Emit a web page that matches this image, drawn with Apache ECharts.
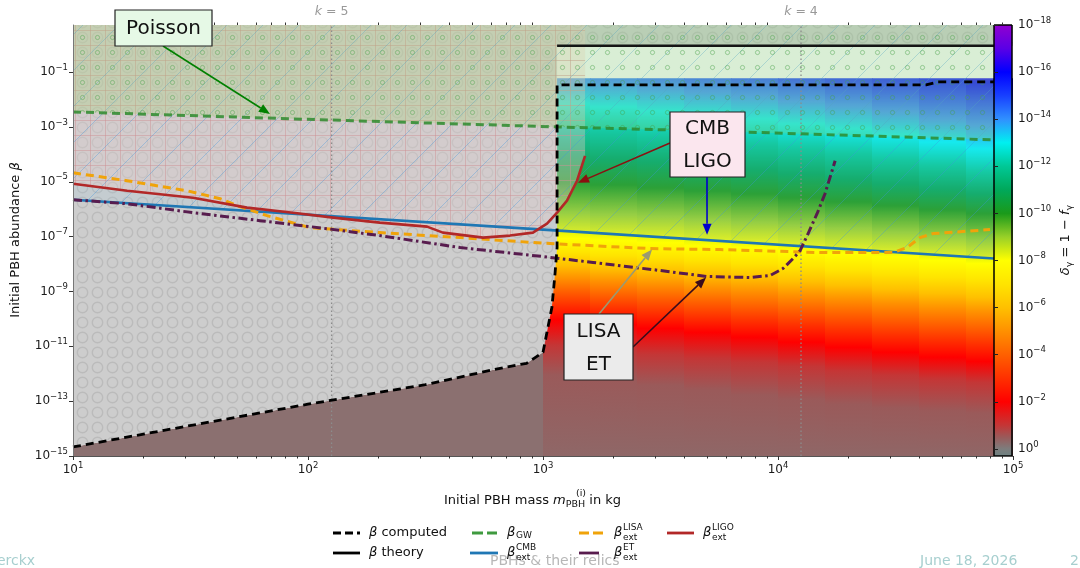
<!DOCTYPE html>
<html>
<head>
<meta charset="utf-8">
<title>Initial PBH abundance</title>
<script src="https://cdn.jsdelivr.net/npm/echarts@6.0.0/dist/echarts.min.js"></script>
<style>
html, body { margin: 0; padding: 0; background: #ffffff; }
#chart { width: 1080px; height: 568px; }
</style>
</head>
<body>
<div id="chart"></div>
<script>
// ---------------- axis ranges ----------------
const massRange = [10, 1e5];          // kg
const betaRange = [1e-15, 5.2];       // initial abundance
const deltaRange = [-18, 0.3];        // log10 of delta_gamma on the colour bar

// ---------------- curves: mass (kg) and beta ----------------
const computedMass = [10, 100, 316, 603, 851, 1000, 1091, 1125, 1148, 1148, 42660, 47860, 83000];
const computedBeta = [2.14e-15, 7.76e-14, 3.98e-13, 1.35e-12, 2.40e-12, 6.03e-12, 2.63e-10, 4.47e-9, 3.98e-8, 0.0339, 0.0339, 0.0437, 0.0437];

const theoryMass = [1148, 83000];
const theoryBeta = [0.91, 0.91];

const gwMass = [10, 166, 1148, 3373, 6887, 82220];
const gwBeta = [3.51e-3, 1.65e-3, 1.0e-3, 7.78e-4, 6.58e-4, 3.37e-4];

const cmbMass = [10, 1000, 83000];
const cmbBeta = [2.2e-6, 1.8e-7, 1.6e-8];

const ligoMass = [10, 17.0, 32.4, 55.0, 86.3, 128, 202, 321, 375, 556, 724, 906, 1040, 1148, 1265, 1396, 1510];
const ligoBeta = [8.45e-6, 4.71e-6, 2.62e-6, 1.14e-6, 7.46e-7, 4.91e-7, 3.23e-7, 2.31e-7, 1.40e-7, 9.20e-8, 1.09e-7, 1.40e-7, 2.97e-7, 7.46e-7, 2.04e-6, 1.09e-5, 8.81e-5];

const lisaMass = [10, 17.0, 30.5, 42.3, 49.9, 67.0, 102, 202, 444, 1072, 2851, 5662, 15100, 30830, 35400, 40180, 45710, 79800];
const lisaBeta = [2.12e-5, 1.09e-5, 4.71e-6, 2.41e-6, 1.34e-6, 5.81e-7, 2.12e-7, 1.40e-7, 9.20e-8, 5.56e-8, 3.66e-8, 3.37e-8, 2.62e-8, 2.62e-8, 3.98e-8, 9.20e-8, 1.29e-7, 1.80e-7];

const etMass = [10, 17.0, 32.4, 62.5, 120, 202, 444, 1000, 1633, 3148, 4989, 7603, 9247, 10500, 11590, 12420, 13430, 14660, 15850, 17500];
const etBeta = [2.21e-6, 1.58e-6, 7.46e-7, 3.82e-7, 1.95e-7, 1.09e-7, 3.98e-8, 1.87e-8, 1.14e-8, 5.81e-9, 3.51e-9, 3.23e-9, 3.82e-9, 6.85e-9, 1.58e-8, 3.10e-8, 1.29e-7, 6.85e-7, 3.66e-6, 5.81e-5];

// vertical guides for k
const kMass = [126, 12530];
const kLabel = ['5', '4'];

// ---------------- delta_gamma map ----------------
// column edges in mass, top of the map in beta
const heatMassEdges = [1000, 1585, 2512, 3981, 6310, 10000, 15850, 25120, 39810, 63100, 100000];
const heatBetaTop = 0.06;
// log10(delta) levels, and for each level the log10(beta) where it is reached in each column
const deltaLevels = [-0.3, -0.5, -1, -2, -3, -4, -5, -6, -7, -8, -9, -10, -11, -12, -13, -14, -15, -16, -17];
const heatLevelBeta = [
  [-15.22, -15.22, -15.22, -15.22, -15.22, -15.22, -15.22, -15.22, -15.22, -15.22],
  [-12.05, -12.24, -12.42, -12.60, -12.78, -12.96, -13.11, -13.25, -13.36, -13.44],
  [-10.96, -11.15, -11.29, -11.44, -11.58, -11.73, -11.91, -12.05, -12.20, -12.31],
  [-10.05, -10.20, -10.35, -10.49, -10.67, -10.85, -11.04, -11.22, -11.40, -11.55],
  [-9.51, -9.65, -9.80, -9.95, -10.09, -10.24, -10.42, -10.60, -10.78, -10.93],
  [-9.00, -9.15, -9.25, -9.40, -9.55, -9.69, -9.84, -10.02, -10.20, -10.35],
  [-8.53, -8.64, -8.75, -8.89, -9.00, -9.15, -9.29, -9.44, -9.62, -9.76],
  [-8.05, -8.16, -8.27, -8.38, -8.49, -8.64, -8.78, -8.93, -9.07, -9.22],
  [-7.58, -7.69, -7.76, -7.87, -7.98, -8.09, -8.24, -8.35, -8.49, -8.60],
  [-7.07, -7.15, -7.22, -7.33, -7.40, -7.51, -7.62, -7.73, -7.87, -7.98],
  [-6.13, -6.20, -6.27, -6.38, -6.49, -6.60, -6.71, -6.85, -7.00, -7.15],
  [-5.04, -5.11, -5.22, -5.33, -5.44, -5.58, -5.73, -5.87, -6.02, -6.16],
  [-4.05, -4.16, -4.27, -4.42, -4.56, -4.71, -4.89, -5.07, -5.25, -5.44],
  [-3.07, -3.18, -3.33, -3.47, -3.62, -3.80, -3.98, -4.20, -4.42, -4.67],
  [-2.16, -2.27, -2.42, -2.56, -2.71, -2.89, -3.07, -3.29, -3.55, -3.80],
  [-1.33, -1.44, -1.58, -1.73, -1.87, -2.05, -2.24, -2.45, -2.71, -2.93],
  [-0.53, -0.64, -0.78, -0.93, -1.07, -1.25, -1.44, -1.62, -1.84, -2.05],
  [0.27, 0.16, 0.02, -0.13, -0.27, -0.45, -0.64, -0.82, -1.04, -1.40],
  [1.07, 0.96, 0.82, 0.67, 0.53, 0.35, 0.16, -0.02, -0.24, -0.67]
];

// colour map: log10(delta) -> colour
const cmapLevels = [0.3, 0, -0.5, -1, -2, -3, -4, -5, -6, -7, -8, -9, -10, -11, -12, -13, -14, -15, -16, -17, -18];
const cmapColors = ['#6e8282', '#7d7d7d', '#9a5a5a', '#c43636', '#ff0000', '#ff3000', '#ff6000', '#ff9000', '#ffc000', '#ffe400', '#ffff00',
  '#98d028', '#1a9a1a', '#00a85a', '#00c896', '#00f0f0', '#3090ff', '#1840ff', '#0000ff', '#5a00e6', '#9000d0'];

const colorbarTicks = [-18, -16, -14, -12, -10, -8, -6, -4, -2, 0];
const xMajorTicks = [10, 100, 1000, 10000, 100000];
const yMajorTicks = [1e-15, 1e-13, 1e-11, 1e-9, 1e-7, 1e-5, 1e-3, 1e-1];

// ---------------- helpers ----------------
const FONT = 'DejaVu Sans';
const pairs = (ms, bs) => ms.map((m, i) => [m, bs[i]]);

function hexRgb(h) { return [parseInt(h.slice(1, 3), 16), parseInt(h.slice(3, 5), 16), parseInt(h.slice(5, 7), 16)]; }
function cmap(level) {
  for (let k = 0; k < cmapLevels.length - 1; k++) {
    const a = cmapLevels[k], b = cmapLevels[k + 1];
    if (level <= a && level >= b) {
      const t = (a - level) / (a - b);
      const c0 = hexRgb(cmapColors[k]), c1 = hexRgb(cmapColors[k + 1]);
      return 'rgb(' + c0.map((v, j) => Math.round(v + (c1[j] - v) * t)).join(',') + ')';
    }
  }
  return level > cmapLevels[0] ? cmapColors[0] : cmapColors[cmapColors.length - 1];
}

function tile(w, h, draw) {
  const c = document.createElement('canvas');
  c.width = w; c.height = h;
  draw(c.getContext('2d'), w, h);
  return { image: c, repeat: 'repeat' };
}
// hatch fills
const grayHatch = tile(15, 15, (ctx, w, h) => {
  ctx.fillStyle = '#cdcdcd'; ctx.fillRect(0, 0, w, h);
  ctx.strokeStyle = '#bbbbbb'; ctx.lineWidth = 1.4;
  ctx.beginPath(); ctx.arc(7.5, 7.5, 5.2, 0, Math.PI * 2); ctx.stroke();
});
const pinkHatch = tile(15, 15, (ctx, w, h) => {
  ctx.fillStyle = 'rgba(255,205,195,0.35)'; ctx.fillRect(0, 0, w, h);
  ctx.strokeStyle = 'rgba(215,135,135,0.5)'; ctx.lineWidth = 1;
  ctx.beginPath(); ctx.moveTo(0.5, 0); ctx.lineTo(0.5, h); ctx.moveTo(0, 0.5); ctx.lineTo(w, 0.5); ctx.stroke();
});
const blueHatch = tile(36, 36, (ctx, w, h) => {
  ctx.fillStyle = 'rgba(150,200,230,0.15)'; ctx.fillRect(0, 0, w, h);
  ctx.strokeStyle = 'rgba(60,150,220,0.35)'; ctx.lineWidth = 1;
  ctx.beginPath(); ctx.moveTo(-3, h + 3); ctx.lineTo(w + 3, -3); ctx.stroke();
});
const greenHatch = tile(15, 15, (ctx, w, h) => {
  ctx.fillStyle = 'rgba(150,210,100,0.25)'; ctx.fillRect(0, 0, w, h);
  ctx.strokeStyle = 'rgba(70,160,70,0.45)'; ctx.lineWidth = 1;
  ctx.beginPath(); ctx.arc(7.5, 7.5, 2.1, 0, Math.PI * 2); ctx.stroke();
});

function regionSeries(name, data, origin, color, z) {
  return { name: name, type: 'line', data: data, symbol: 'none', silent: true, z: z,
    lineStyle: { width: 0, opacity: 0 }, areaStyle: { origin: origin, color: color, opacity: 1 } };
}
function curveSeries(name, data, color, width, type, z, opacity) {
  return { name: name, type: 'line', data: data, symbol: 'none', silent: true, z: z,
    lineStyle: { color: color, width: width, type: type, cap: 'butt', join: 'round', opacity: opacity == null ? 1 : opacity } };
}

const tickRich = {
  b: { fontSize: 12, fontFamily: FONT, color: '#1a1a1a' },
  s: { fontSize: 8.5, fontFamily: FONT, color: '#1a1a1a', padding: [0, 0, 9, 0] }
};
function powText(e) { return '{b|10}{s|' + (e < 0 ? '\u2212' + (-e) : String(e)) + '}'; }
const minorMass = [];
[10, 100, 1000, 10000].forEach(d => { for (let k = 2; k <= 9; k++) minorMass.push(k * d); });

// ---------------- chart ----------------
const chart = echarts.init(document.getElementById('chart'), null, { renderer: 'canvas' });

const grayRegion = pairs(computedMass.slice(0, 9), computedBeta.slice(0, 9)).concat([[theoryMass[0], theoryBeta[0]], [massRange[1], theoryBeta[1]]]);
const brownRegion = pairs(computedMass.slice(0, 6), computedBeta.slice(0, 6));

const option = {
  animation: false,
  textStyle: { fontFamily: FONT },
  grid: [
    { left: 73, top: 25, width: 940, height: 431 },
    { left: 994, top: 25, width: 18, height: 431 },
    { left: 73, top: 25, width: 940, height: 431 }
  ],
  xAxis: [
    { type: 'log', logBase: 10, gridIndex: 0, min: massRange[0], max: massRange[1], position: 'bottom', z: 20,
      axisLine: { show: true, lineStyle: { color: '#555', width: 1 } },
      axisTick: { show: true, length: 4, customValues: xMajorTicks, lineStyle: { color: '#333' } },
      axisLabel: { customValues: xMajorTicks, margin: 5, formatter: v => powText(Math.round(Math.log10(v))), rich: tickRich },
      splitLine: { show: false }, minorTick: { show: false } },
    { type: 'log', logBase: 10, gridIndex: 0, min: massRange[0], max: massRange[1], position: 'top', z: 20,
      axisLine: { show: false },
      axisTick: { show: true, length: 2.5, customValues: minorMass, lineStyle: { color: '#333' } },
      axisLabel: { show: false }, splitLine: { show: false } },
    { type: 'value', gridIndex: 1, min: 0, max: 1, show: false },
    { type: 'log', logBase: 10, gridIndex: 2, min: massRange[0], max: massRange[1], position: 'bottom', z: 20,
      axisLine: { show: false },
      axisTick: { show: true, length: 2.5, customValues: minorMass, lineStyle: { color: '#333' } },
      axisLabel: { show: false }, splitLine: { show: false } }
  ],
  yAxis: [
    { type: 'log', logBase: 10, gridIndex: 0, min: betaRange[0], max: betaRange[1], z: 20,
      axisLine: { show: true, lineStyle: { color: '#777', width: 1 } },
      axisTick: { show: true, length: 4, customValues: yMajorTicks, lineStyle: { color: '#333' } },
      axisLabel: { customValues: yMajorTicks, margin: 5, formatter: v => powText(Math.round(Math.log10(v))), rich: tickRich },
      splitLine: { show: false } },
    { type: 'value', gridIndex: 1, min: deltaRange[0], max: deltaRange[1], inverse: true, position: 'right', z: 20,
      axisLine: { show: false },
      axisTick: { show: true, length: 4, customValues: colorbarTicks, lineStyle: { color: '#222' } },
      axisLabel: { customValues: colorbarTicks, margin: 6, formatter: v => powText(v), rich: tickRich },
      splitLine: { show: false } },
    { type: 'value', gridIndex: 2, min: 0, max: 1, show: false }
  ],
  series: [
    // delta_gamma map, one gradient column per mass bin
    { type: 'custom', name: 'delta map', xAxisIndex: 0, yAxisIndex: 0, z: 1, silent: true, clip: true,
      data: heatMassEdges.slice(0, -1).map((m, i) => [m, betaRange[0], heatMassEdges[i + 1], heatBetaTop, i]),
      encode: { x: [0, 2], y: [1, 3] },
      renderItem: function (params, api) {
        const i = api.value(4);
        const pL = api.coord([api.value(0), api.value(1)]);
        const pR = api.coord([api.value(2), api.value(3)]);
        const ys = deltaLevels.map((lv, k) => api.coord([api.value(0), Math.pow(10, heatLevelBeta[k][i])])[1]);
        const yMin = Math.min.apply(null, ys), yMax = Math.max.apply(null, ys);
        const stops = deltaLevels.map((lv, k) => ({ offset: (ys[k] - yMin) / (yMax - yMin), color: cmap(lv) }))
          .sort((a, b) => a.offset - b.offset);
        return { type: 'rect', shape: { x: pL[0], y: pR[1], width: pR[0] - pL[0] + 0.6, height: pL[1] - pR[1] },
          style: { fill: new echarts.graphic.LinearGradient(0, yMin, 0, yMax, stops, true) } };
      } },
    regionSeries('below computed', brownRegion, 'start', '#8b7070', 1),
    regionSeries('theory excluded', grayRegion, 'end', grayHatch, 2),
    regionSeries('LIGO excluded', pairs(ligoMass, ligoBeta), 'end', pinkHatch, 3),
    regionSeries('CMB excluded', pairs(cmbMass, cmbBeta), 'end', blueHatch, 4),
    regionSeries('GW excluded', pairs(gwMass, gwBeta), 'end', greenHatch, 5),
    // k guides
    ...kMass.map((m, i) => ({ type: 'line', name: 'k' + kLabel[i], data: [[m, betaRange[0]], [m, betaRange[1]]], symbol: 'none', silent: true, z: 6,
      lineStyle: { color: '#8c8c8c', width: 1.3, type: [1.5, 2.5] } })),
    curveSeries('beta theory', pairs(theoryMass, theoryBeta), '#151515', 2.6, 'solid', 7),
    curveSeries('beta GW', pairs(gwMass, gwBeta), '#2e8b2e', 3, [8, 5], 7, 0.85),
    curveSeries('beta CMB', pairs(cmbMass, cmbBeta), '#1f77b4', 2.6, 'solid', 8),
    curveSeries('beta LISA', pairs(lisaMass, lisaBeta), '#f0a30a', 3, [8, 5], 8),
    curveSeries('beta ET', pairs(etMass, etBeta), '#581c4e', 3, [9, 3.5, 2.5, 3.5], 8),
    curveSeries('beta LIGO', pairs(ligoMass, ligoBeta), '#b22828', 2.6, 'solid', 8),
    curveSeries('beta computed', pairs(computedMass, computedBeta), '#000000', 2.8, [8, 5], 9),
    // colour bar
    { type: 'custom', name: 'colour bar', xAxisIndex: 2, yAxisIndex: 1, z: 12, silent: true,
      data: [[0, deltaRange[0], 1, deltaRange[1]]],
      encode: { x: [0, 2], y: [1, 3] },
      renderItem: function (params, api) {
        const pTop = api.coord([api.value(0), api.value(1)]);
        const pBot = api.coord([api.value(2), api.value(3)]);
        const stops = cmapLevels.map(lv => ({ offset: (api.coord([0, lv])[1] - pTop[1]) / (pBot[1] - pTop[1]), color: cmap(lv) }))
          .sort((a, b) => a.offset - b.offset);
        return { type: 'rect', shape: { x: pTop[0], y: pTop[1], width: pBot[0] - pTop[0], height: pBot[1] - pTop[1] },
          style: { fill: new echarts.graphic.LinearGradient(0, pTop[1], 0, pBot[1], stops, true), stroke: '#000', lineWidth: 1 } };
      } }
  ]
};
chart.setOption(option);

// ---------------- annotations, titles, legend ----------------
const px = (m, b) => chart.convertToPixel({ xAxisIndex: 0, yAxisIndex: 0 }, [m, b]);
function arrow(from, to, color, width) {
  const dx = to[0] - from[0], dy = to[1] - from[1], L = Math.hypot(dx, dy);
  const ux = dx / L, uy = dy / L, hl = 11, hw = 4.5;
  const bx = to[0] - ux * hl, by = to[1] - uy * hl;
  return [
    { type: 'line', z: 100, shape: { x1: from[0], y1: from[1], x2: bx, y2: by }, style: { stroke: color, lineWidth: width } },
    { type: 'polygon', z: 100, shape: { points: [[to[0], to[1]], [bx - uy * hw, by + ux * hw], [bx + uy * hw, by - ux * hw]] }, style: { fill: color } }
  ];
}
function box(x, y, w, h, fill, lines) {
  const els = [{ type: 'rect', z: 101, shape: { x: x, y: y, width: w, height: h }, style: { fill: fill, stroke: '#222', lineWidth: 1.2 } }];
  lines.forEach((t, i) => els.push({ type: 'text', z: 102, x: x + w / 2, y: y + h / (lines.length * 2) * (2 * i + 1) + 1,
    style: { text: t, font: '20px "DejaVu Sans"', fill: '#111', align: 'center', verticalAlign: 'middle' } }));
  return els;
}
function txt(x, y, text, rich, extra) {
  return Object.assign({ type: 'text', z: 110, x: x, y: y, style: { text: text, rich: rich, align: 'left', verticalAlign: 'middle' } }, extra || {});
}
const R = {
  n: { fontSize: 13, fontFamily: FONT, fill: '#111' },
  i: { fontSize: 13, fontFamily: FONT, fontStyle: 'italic', fill: '#111' },
  sm: { fontSize: 9, fontFamily: FONT, fill: '#111' }
};
function betaLabel(x, y, sup, sub) {
  const els = [txt(x, y, '{i|\u03b2}', R)];
  if (sup) els.push(txt(x + 9, y - 5, '{sm|' + sup + '}', R));
  if (sub) els.push(txt(x + 9, y + (sup ? 5 : 3), '{sm|' + sub + '}', R));
  return els;
}
function handle(x1, x2, y, color, dash, width) {
  return { type: 'line', z: 110, shape: { x1: x1, y1: y, x2: x2, y2: y }, style: { stroke: color, lineWidth: width || 2.8, lineDash: dash || null } };
}

const g = [];
// Poisson
g.push(...arrow([163, 46], px(68.9, 2.97e-3), '#008000', 1.6));
g.push(...box(115, 10, 97, 36, '#e6f9e6', ['Poisson']));
// CMB / LIGO
g.push(...arrow([670, 143], px(1409, 9.2e-6), '#8b1010', 1.6));
g.push(...arrow([707, 177], px(4990, 1.18e-7), '#0000cc', 1.6));
g.push(...box(670, 112, 75, 65, '#fbe6ee', ['CMB', 'LIGO']));
// LISA / ET
g.push(...arrow([599, 314], px(2910, 3.4e-8), '#9a9a72', 1.6));
g.push(...arrow([633, 347], px(4940, 3.2e-9), '#3a0c1c', 1.6));
g.push(...box(564, 314, 69, 66, '#ebebeb', ['LISA', 'ET']));

// k labels above the frame
const kR = { i: { fontSize: 12.5, fontFamily: FONT, fontStyle: 'italic', fill: '#999' }, n: { fontSize: 12.5, fontFamily: FONT, fill: '#999' } };
kMass.forEach((m, i) => g.push({ type: 'text', z: 110, x: px(m, 1)[0], y: 12,
  style: { text: '{i|k}{n| = ' + kLabel[i] + '}', rich: kR, align: 'center', verticalAlign: 'middle' } }));

// axis titles
const tR = { n: { fontSize: 13, fontFamily: FONT, fill: '#111' }, i: { fontSize: 13, fontFamily: FONT, fontStyle: 'italic', fill: '#111' },
  sb: { fontSize: 9.5, fontFamily: FONT, fill: '#111', padding: [7, 0, 0, 0] } };
g.push({ type: 'text', z: 110, x: 16, y: 240, rotation: Math.PI / 2,
  style: { text: '{n|Initial PBH abundance }{i|\u03b2}', rich: tR, align: 'center', verticalAlign: 'middle' } });
g.push({ type: 'text', z: 110, x: 444, y: 501,
  style: { text: '{n|Initial PBH mass }{i|m}{sb|PBH}{n| in kg}', rich: tR, align: 'left', verticalAlign: 'middle' } });
g.push({ type: 'text', z: 110, x: 581, y: 494, style: { text: '(i)', font: '9.5px "DejaVu Sans"', fill: '#111', align: 'center', verticalAlign: 'middle' } });
g.push({ type: 'text', z: 110, x: 1066, y: 240, rotation: Math.PI / 2,
  style: { text: '{i|\u03b4}{sb|\u03b3}{n| = 1 \u2212 }{i|f}{sb|\u03b3}', rich: tR, align: 'center', verticalAlign: 'middle' } });

// legend
g.push(handle(333, 360, 533, '#000', [8, 4]));
g.push(txt(369, 533, '{i|\u03b2}{n| computed}', R));
g.push(handle(333, 360, 553, '#000'));
g.push(txt(369, 553, '{i|\u03b2}{n| theory}', R));
g.push(handle(472, 497, 533, '#3f9a3f', [11, 4]));
g.push(...betaLabel(507, 533, null, 'GW'));
g.push(handle(470, 498, 553, '#1f77b4'));
g.push(...betaLabel(507, 553, 'CMB', 'ext'));
g.push(handle(579, 603, 533, '#f0a30a', [10, 4]));
g.push(...betaLabel(614, 533, 'LISA', 'ext'));
g.push(handle(579, 599, 553, '#581c4e'));
g.push(...betaLabel(614, 553, 'ET', 'ext'));
g.push(handle(667, 694, 533, '#b22828'));
g.push(...betaLabel(703, 533, 'LIGO', 'ext'));

// footer line
const fR = { t: { fontSize: 14, fontFamily: FONT, fill: '#a7cfcf' }, g: { fontSize: 14, fontFamily: FONT, fill: '#b7b7b7' } };
g.push(txt(-3, 561, '{t|erckx}', fR, { z: 90 }));
g.push(txt(490, 561, '{g|PBHs & their relics}', fR, { z: 90 }));
g.push(txt(920, 561, '{t|June 18, 2026}', fR, { z: 90 }));
g.push(txt(1070, 561, '{t|2}', fR, { z: 90 }));

chart.setOption({ graphic: { elements: g } });
</script>
</body>
</html>
